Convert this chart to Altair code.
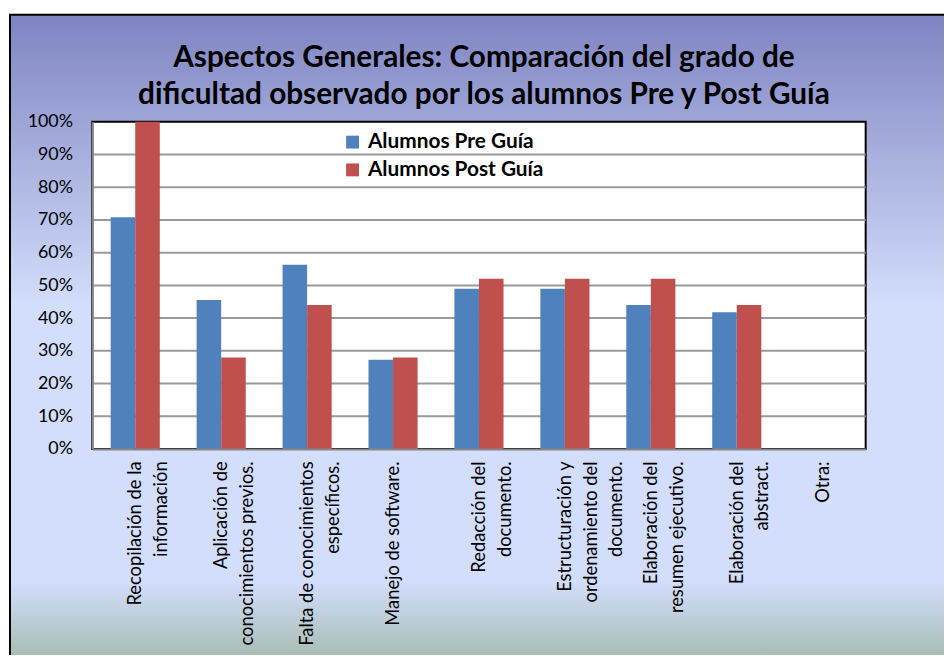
import altair as alt
import pandas as pd

categorias = [
    "Recopilación de la|información",
    "Aplicación de|conocimientos previos.",
    "Falta de conocimientos|específicos.",
    "Manejo de software.",
    "Redacción del|documento.",
    "Estructuración y|ordenamiento del|documento.",
    "Elaboración del|resumen ejecutivo.",
    "Elaboración del|abstract.",
    "Otra:",
]
series = ["Alumnos Pre Guía", "Alumnos Post Guía"]
pre_guia = [0.708, 0.455, 0.563, 0.273, 0.49, 0.49, 0.44, 0.418, 0.0]
post_guia = [1.0, 0.28, 0.44, 0.28, 0.52, 0.52, 0.52, 0.44, 0.0]
colores = ["#4f81bd", "#c0504d"]
ticks_grid = [0.1, 0.2, 0.3, 0.4, 0.5, 0.6, 0.7, 0.8, 0.9]
ticks_y = [0, 0.1, 0.2, 0.3, 0.4, 0.5, 0.6, 0.7, 0.8, 0.9, 1.0]
titulo = [
    "Aspectos Generales: Comparación del grado de",
    "dificultad observado por los alumnos Pre y Post Guía",
]

rows = []
for c, a, b in zip(categorias, pre_guia, post_guia):
    rows.append({"cat": c, "serie": series[0], "valor": a})
    rows.append({"cat": c, "serie": series[1], "valor": b})
df = pd.DataFrame(rows)
grid_df = pd.DataFrame({"valor": ticks_grid})
one = pd.DataFrame({"a": [0]})

W, H = 780, 330
yscale = alt.Scale(domain=[0, 1], nice=False)
yaxis = alt.Axis(
    title=None,
    format="%",
    values=ticks_y,
    labelFontSize=18,
    labelPadding=20,
    ticks=False,
    zindex=2,
)

bg = alt.Chart(one).mark_rect(
    fill=alt.Gradient(
        gradient="linear",
        stops=[
            alt.GradientStop(offset=0, color="#7f84c1"),
            alt.GradientStop(offset=0.44, color="#d3defc"),
            alt.GradientStop(offset=0.855, color="#d3defc"),
            alt.GradientStop(offset=1, color="#9cb4a0"),
        ],
        x1=0, x2=0, y1=0, y2=1,
    ),
    stroke="black",
    strokeWidth=2,
).encode(
    x=alt.value(-83), x2=alt.value(880), y=alt.value(-108), y2=alt.value(560)
)

plotbg = alt.Chart(one).mark_rect(
    fill="white", stroke="black", strokeWidth=2
).encode(x=alt.value(0), x2=alt.value(W), y=alt.value(0), y2=alt.value(H))

grid = alt.Chart(grid_df).mark_rule(color="#9a9a9a", strokeWidth=2).encode(
    y=alt.Y("valor:Q", scale=yscale, axis=yaxis)
)

bars = alt.Chart(df).mark_bar().encode(
    x=alt.X(
        "cat:N",
        sort=categorias,
        scale=alt.Scale(paddingInner=0.4286, paddingOuter=0.2143),
        axis=alt.Axis(
            title=None,
            labelAngle=-90,
            labelExpr="split(datum.label, '|')",
            labelFontSize=18.5,
            labelLineHeight=26,
            labelPadding=12,
            labelLimit=400,
            labelOverlap=False,
            ticks=False,
            zindex=2,
        ),
    ),
    xOffset=alt.XOffset("serie:N", sort=series),
    y=alt.Y("valor:Q", scale=yscale, axis=yaxis),
    color=alt.Color(
        "serie:N",
        sort=series,
        scale=alt.Scale(domain=series, range=colores),
        legend=alt.Legend(
            title=None,
            orient="none",
            legendX=252,
            legendY=10,
            symbolType="square",
            symbolSize=169,
            symbolStrokeWidth=0,
            labelFontSize=21,
            labelFontWeight="bold",
            labelOffset=5,
            labelLimit=400,
            rowPadding=6,
        ),
    ),
)

chart = alt.layer(bg, plotbg, grid, bars).properties(
    width=W,
    height=H,
    autosize=alt.AutoSizeParams(type="none"),
    padding={"left": 85, "top": 112, "right": 79, "bottom": 205},
    title=alt.TitleParams(
        text=titulo,
        font="Lato",
        fontSize=30,
        fontWeight="bold",
        color="black",
        anchor="middle",
        lineHeight=37,
        offset=-97,
        dx=5,
    ),
).configure(
    font="Lato", background="white"
).configure_view(stroke=None).configure_axis(
    labelFont="Lato",
    labelColor="black",
    domainColor="#868686",
    domainWidth=2,
    grid=False,
).configure_legend(labelFont="Lato", labelColor="black")

chart.save("out.html", embed_options={"renderer": "svg", "actions": False})
